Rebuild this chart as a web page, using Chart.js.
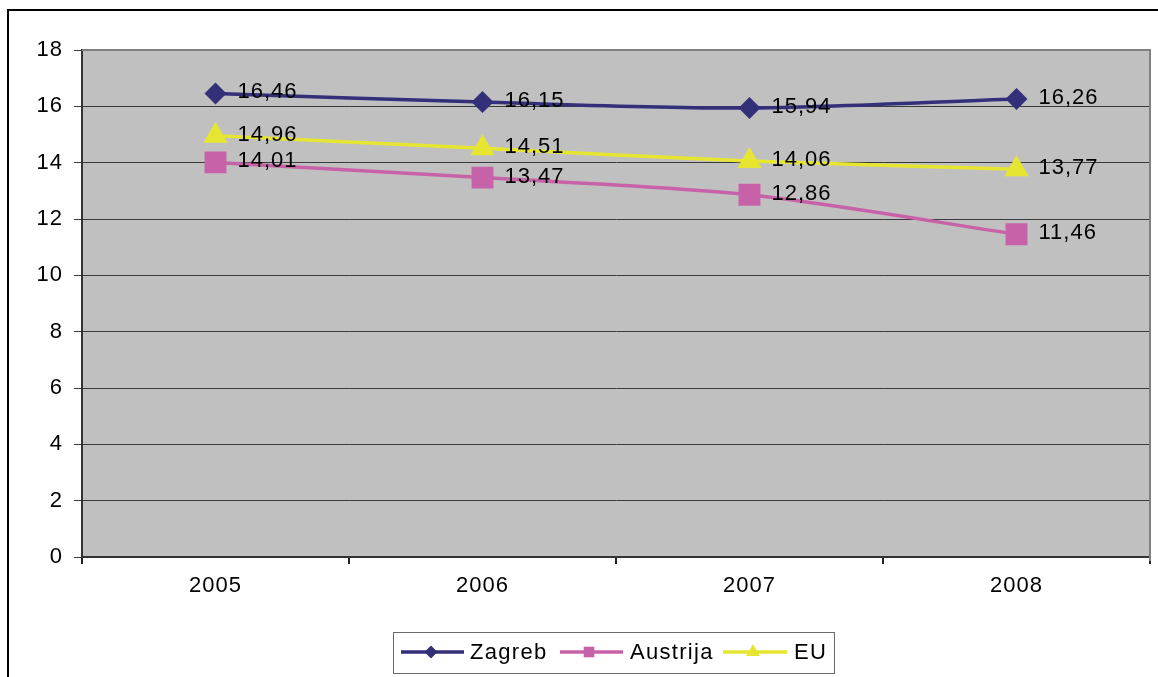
<!DOCTYPE html>
<html>
<head>
<meta charset="utf-8">
<title>Zagreb / Austrija / EU</title>
<script src="https://cdn.jsdelivr.net/npm/chart.js@4/dist/chart.umd.min.js"></script>
<style>
  html, body { margin: 0; padding: 0; background: #fff; overflow: hidden; }
  canvas { display: block; }
</style>
</head>
<body>
<canvas id="grafikon" width="1158" height="677"></canvas>
<script>
// podaci po godinama
const godine = ['2005', '2006', '2007', '2008'];
const zagreb = [16.46, 16.15, 15.94, 16.26];
const austrija = [14.01, 13.47, 12.86, 11.46];
const eu = [14.96, 14.51, 14.06, 13.77];

const FONT = '"Liberation Sans", Arial, sans-serif';
Chart.defaults.font.family = FONT;
Chart.defaults.font.size = 22;
Chart.defaults.color = '#000';

const boje = { zagreb: '#332f78', austrija: '#c862a8', eu: '#e6e632' };

function zarez(v) {
  return v.toFixed(2).replace('.', ',');
}

// pozadina, okvir i legenda
const okvirPlugin = {
  id: 'okvir',
  beforeDraw(chart) {
    const { ctx, chartArea: a } = chart;
    ctx.save();
    ctx.fillStyle = '#c0c0c0';
    ctx.fillRect(a.left, a.top, a.right - a.left, a.bottom - a.top);
    ctx.restore();
    ctx.letterSpacing = '1px';
  },
  beforeDatasetsDraw(chart) {
    const { ctx, chartArea: a } = chart;
    ctx.save();
    ctx.strokeStyle = '#808080';
    ctx.lineWidth = 2;
    ctx.beginPath();
    ctx.moveTo(a.left, a.top);
    ctx.lineTo(a.right, a.top);
    ctx.lineTo(a.right, a.bottom + 4);
    ctx.stroke();
    ctx.restore();
  },
  afterDatasetsDraw(chart) {
    // vrijednosti uz točke
    const ctx = chart.ctx;
    ctx.save();
    ctx.font = '22px ' + FONT;
    ctx.letterSpacing = '1px';
    ctx.fillStyle = '#000';
    ctx.textAlign = 'left';
    ctx.textBaseline = 'middle';
    chart.data.datasets.forEach((ds, i) => {
      chart.getDatasetMeta(i).data.forEach((p, j) => {
        ctx.fillText(zarez(ds.data[j]), p.x + 22, p.y - 1);
      });
    });
    ctx.restore();
  },
  afterDraw(chart) {
    const ctx = chart.ctx;
    ctx.save();
    // vanjski okvir
    ctx.fillStyle = '#000';
    ctx.fillRect(7, 9, 2, 668);
    ctx.fillRect(7, 9, 1151, 2);

    // legenda
    ctx.strokeStyle = '#6a6a6a';
    ctx.lineWidth = 1;
    ctx.strokeRect(393.5, 632.5, 441, 41);
    const stavke = [
      { ds: 0, x0: 401, x1: 464, m: 431, tx: 470, r: 6.5 },
      { ds: 1, x0: 560, x1: 623, m: 589, tx: 630, r: 7.5 },
      { ds: 2, x0: 723, x1: 787, m: 753, tx: 794, r: 8 }
    ];
    ctx.font = '22px ' + FONT;
    ctx.letterSpacing = '1.3px';
    ctx.textBaseline = 'middle';
    stavke.forEach(s => {
      const ds = chart.data.datasets[s.ds];
      const y = 652;
      ctx.strokeStyle = ds.borderColor;
      ctx.lineWidth = 3.5;
      ctx.beginPath();
      ctx.moveTo(s.x0, y);
      ctx.lineTo(s.x1, y);
      ctx.stroke();
      ctx.fillStyle = ds.borderColor;
      Chart.helpers.drawPoint(ctx, { pointStyle: ds.pointStyle, radius: s.r, rotation: 0, borderWidth: 0 }, s.m, y);
      ctx.fillStyle = '#000';
      ctx.fillText(ds.label, s.tx, y + 1);
    });
    ctx.restore();
  }
};

new Chart(document.getElementById('grafikon'), {
  type: 'line',
  data: {
    labels: godine,
    datasets: [
      {
        label: 'Zagreb', data: zagreb,
        borderColor: boje.zagreb, backgroundColor: boje.zagreb,
        pointStyle: 'rectRot', pointRadius: 11, pointHoverRadius: 11
      },
      {
        label: 'Austrija', data: austrija,
        borderColor: boje.austrija, backgroundColor: boje.austrija,
        pointStyle: 'rect', pointRadius: 15.5, pointHoverRadius: 15.5
      },
      {
        label: 'EU', data: eu,
        borderColor: boje.eu, backgroundColor: boje.eu,
        pointStyle: 'triangle', pointRadius: 14, pointHoverRadius: 14
      }
    ].map(d => Object.assign(d, { borderWidth: 3.5, pointBorderWidth: 0, tension: 0.3, fill: false }))
  },
  options: {
    responsive: false,
    animation: false,
    layout: { autoPadding: false, padding: { left: 0, right: 8, top: 50, bottom: 60 } },
    plugins: { legend: { display: false }, tooltip: { enabled: false } },
    scales: {
      x: {
        offset: true,
        afterFit(s) { s.height = 60; s.paddingLeft = 0; s.paddingRight = 0; },
        grid: { offset: true, drawOnChartArea: false, drawTicks: true, tickLength: 7, color: '#222', lineWidth: 2 },
        border: { display: true, color: '#333', width: 2 },
        ticks: { padding: 9, font: { size: 22 } }
      },
      y: {
        min: 0, max: 18,
        afterFit(s) { s.width = 82; },
        grid: { color: '#3a3a3a', lineWidth: 1, tickLength: 8 },
        border: { display: true, color: '#333', width: 2 },
        ticks: { stepSize: 2, padding: 11, font: { size: 22 } }
      }
    }
  },
  plugins: [okvirPlugin]
});
</script>
</body>
</html>
